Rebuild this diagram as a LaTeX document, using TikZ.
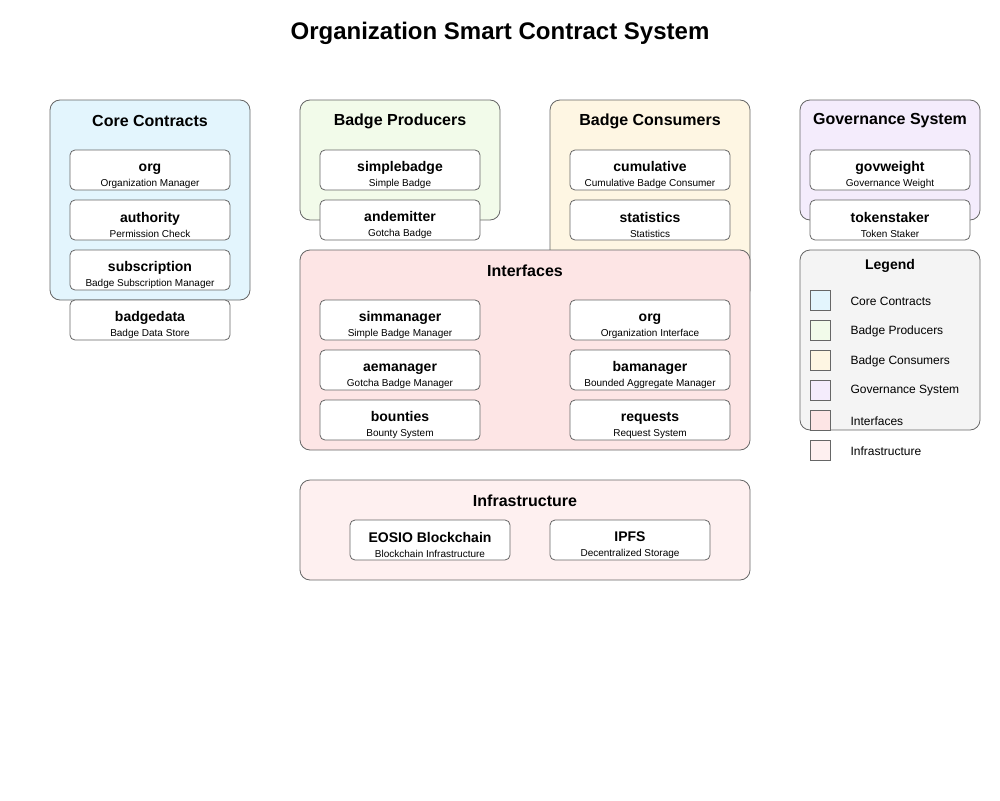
\documentclass[tikz,border=0pt]{standalone}
\usepackage{fontspec}
\setmainfont{Liberation Sans}

\definecolor{edgegray}{HTML}{666666}
\definecolor{corefill}{HTML}{E3F5FD}
\definecolor{prodfill}{HTML}{F2FBEA}
\definecolor{consfill}{HTML}{FEF6E3}
\definecolor{govfill}{HTML}{F4ECFC}
\definecolor{intffill}{HTML}{FDE5E5}
\definecolor{infrafill}{HTML}{FEF0F0}
\definecolor{legfill}{HTML}{F4F4F4}

\newcommand{\boxtext}[2]{{\fontsize{14}{15}\selectfont\bfseries\rule{0pt}{20pt}#1}\\[3pt]{\fontsize{10}{11}\selectfont #2}}

\begin{document}
\begin{tikzpicture}[x=1pt,y=-1pt,
    group/.style={draw=edgegray, line width=0.8pt, rounded corners=10pt, minimum width=200pt, minimum height=200pt},
    grouptitle/.style={font=\fontsize{16}{19}\selectfont\bfseries},
    cbox/.style={draw=edgegray, line width=0.8pt, fill=white, rounded corners=5pt, minimum width=160pt, minimum height=40pt, inner sep=0pt, align=center},
    swatch/.style={draw=edgegray, line width=0.8pt, minimum size=20pt, inner sep=0pt},
    legtext/.style={anchor=west, font=\fontsize{12}{14}\selectfont}]
\useasboundingbox (0,0) rectangle (1000,800);

\node[font=\fontsize{24}{28}\selectfont\bfseries] (title) at (500,33) {Organization Smart Contract System};

% core contracts
\node[group, fill=corefill] (core) at (150,200) {};
\node[grouptitle] (coretitle) at (150,121) {Core Contracts};
\node[cbox] (org) at (150,170) {\boxtext{org}{Organization Manager}};
\node[cbox] (authority) at (150,220) {\boxtext{authority}{Permission Check}};
\node[cbox] (subscription) at (150,270) {\boxtext{subscription}{Badge Subscription Manager}};
\node[cbox] (badgedata) at (150,320) {\boxtext{badgedata}{Badge Data Store}};

% badge producers
\node[group, fill=prodfill, minimum height=120pt] (producers) at (400,160) {};
\node[grouptitle] (prodtitle) at (400,121) {Badge Producers};
\node[cbox] (simplebadge) at (400,170) {\boxtext{simplebadge}{Simple Badge}};
\node[cbox] (andemitter) at (400,220) {\boxtext{andemitter}{Gotcha Badge}};

% badge consumers
\node[group, fill=consfill] (consumers) at (650,200) {};
\node[grouptitle] (constitle) at (650,121) {Badge Consumers};
\node[cbox] (cumulative) at (650,170) {\boxtext{cumulative}{Cumulative Badge Consumer}};
\node[cbox] (statistics) at (650,220) {\boxtext{statistics}{Statistics}};

% governance
\node[group, fill=govfill, minimum width=180pt, minimum height=120pt] (governance) at (890,160) {};
\node[grouptitle] (govtitle) at (890,121) {Governance System};
\node[cbox] (govweight) at (890,170) {\boxtext{govweight}{Governance Weight}};
\node[cbox] (tokenstaker) at (890,220) {\boxtext{tokenstaker}{Token Staker}};

% interfaces
\node[group, fill=intffill, minimum width=450pt] (interfaces) at (525,350) {};
\node[grouptitle] (intftitle) at (525,271) {Interfaces};
\node[cbox] (simmanager) at (400,320) {\boxtext{simmanager}{Simple Badge Manager}};
\node[cbox] (aemanager) at (400,370) {\boxtext{aemanager}{Gotcha Badge Manager}};
\node[cbox] (bounties) at (400,420) {\boxtext{bounties}{Bounty System}};
\node[cbox] (orgintf) at (650,320) {\boxtext{org}{Organization Interface}};
\node[cbox] (bamanager) at (650,370) {\boxtext{bamanager}{Bounded Aggregate Manager}};
\node[cbox] (requests) at (650,420) {\boxtext{requests}{Request System}};

% infrastructure
\node[group, fill=infrafill, minimum width=450pt, minimum height=100pt] (infra) at (525,530) {};
\node[grouptitle] (infratitle) at (525,501) {Infrastructure};
\node[cbox] (eosio) at (430,540) {\boxtext{EOSIO Blockchain}{Blockchain Infrastructure}};
\node[cbox] (ipfs) at (630,540) {\boxtext{IPFS}{Decentralized Storage}};

% legend
\node[group, fill=legfill, minimum width=180pt, minimum height=180pt] (legend) at (890,340) {};
\node[font=\fontsize{14}{16}\selectfont\bfseries] (legtitle) at (890,266) {Legend};
\node[swatch, fill=corefill] (sw1) at (820,300) {};
\node[legtext] (lt1) at (847,301) {Core Contracts};
\node[swatch, fill=prodfill] (sw2) at (820,330) {};
\node[legtext] (lt2) at (847,331) {Badge Producers};
\node[swatch, fill=consfill] (sw3) at (820,360) {};
\node[legtext] (lt3) at (847,361) {Badge Consumers};
\node[swatch, fill=govfill] (sw4) at (820,390) {};
\node[legtext] (lt4) at (847,391) {Governance System};
\node[swatch, fill=intffill] (sw5) at (820,420) {};
\node[legtext] (lt5) at (847,421) {Interfaces};
\node[swatch, fill=infrafill] (sw6) at (820,450) {};
\node[legtext] (lt6) at (847,451) {Infrastructure};
\end{tikzpicture}
\end{document}
